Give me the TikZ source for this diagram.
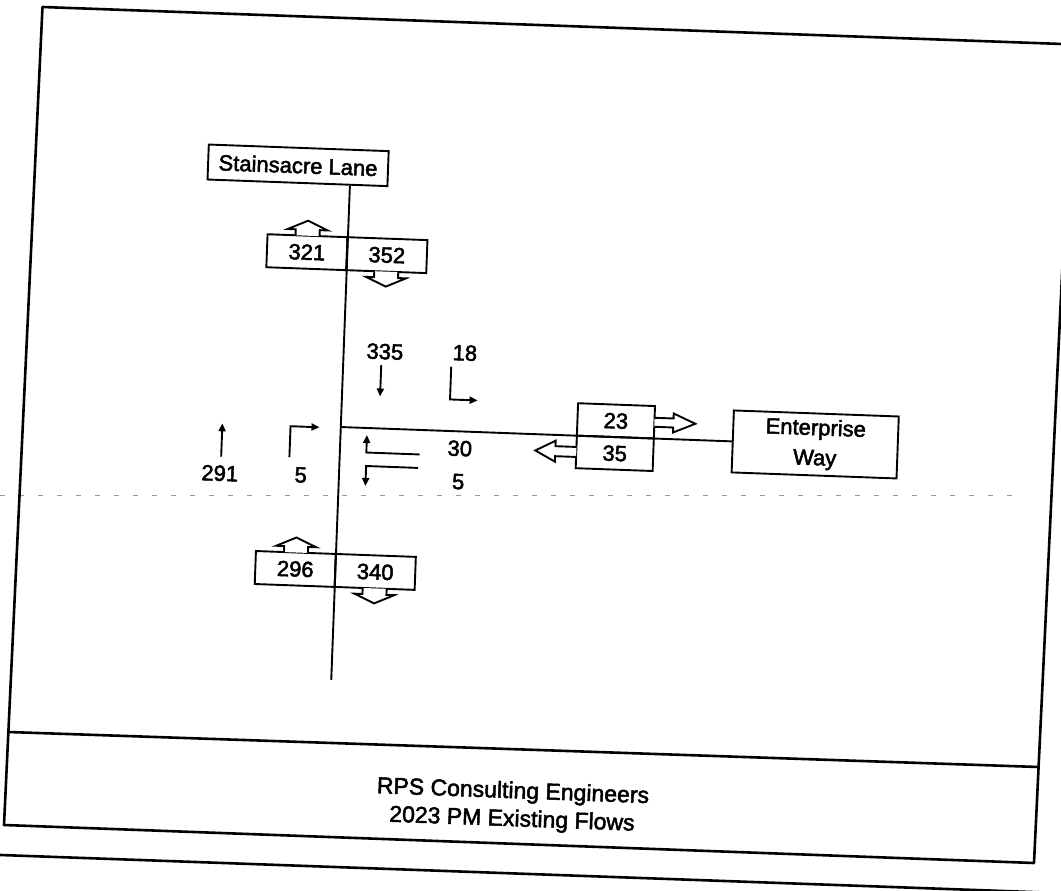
\documentclass[tikz,border=0pt]{standalone}
\usepackage{fontspec}
\setmainfont[FakeBold=2.2]{Liberation Sans}
\usetikzlibrary{arrows.meta,calc}
\begin{document}
\begin{tikzpicture}[x=1pt,y=-1pt,
  frameline/.style={line width=2.6pt, line join=round},
  scanline/.style={draw=black!40, line width=1.5pt, dash pattern=on 5pt off 14pt},
  road/.style={line width=1.9pt},
  box/.style={draw, line width=1.9pt, fill=white, inner sep=0pt, font=\fontsize{22}{30}\selectfont},
  num/.style={inner sep=0pt, font=\fontsize{22}{26}\selectfont},
  flow/.style={line width=1.9pt, -{Triangle[length=8pt,width=7pt]}},
  blockarrow/.style={draw, line width=1.9pt, fill=white, line join=miter},
  foot/.style={inner sep=0pt, align=center, font=\fontsize{23}{28}\selectfont}
]
\useasboundingbox (0,0) rectangle (1061,891);
\clip (0,0) rectangle (1061,891);
\fill[white] (0,0) rectangle (1061,891);

% scan artefact
\draw[scanline] (0,495.5) -- (1015,495.5);

% outer frame
\draw[frameline] (42.5,7) -- (1073,44.4) -- (1034,863) -- (4,825) -- cycle;
\draw[frameline] (8.4,732) -- (1038.6,767);
\draw[frameline] (-5,854.8) -- (1045,892.5);

\begin{scope}[rotate around={-2.1:(530,445)}, transform shape]
  % road name boxes
  \node[box, minimum width=180pt, minimum height=35pt] (sl) at (288,174) {Stainsacre Lane};
  \node[box, minimum width=165pt, minimum height=62pt, align=center] (ew) at (815,434) {Enterprise\\Way};

  % flow boxes
  \node[box, minimum width=80pt, minimum height=33pt] (a321) at (300,260.5) {321};
  \node[box, minimum width=80pt, minimum height=33pt] (a352) at (380,260.5) {352};
  \node[box, minimum width=80pt, minimum height=33pt] (a296) at (300,577.5) {296};
  \node[box, minimum width=80pt, minimum height=33pt] (a340) at (380,577.5) {340};
  \node[box, minimum width=77pt, minimum height=32.5pt] (e23) at (615,417.75) {23};
  \node[box, minimum width=77pt, minimum height=32.5pt] (e35) at (615,450.25) {35};

  % roads
  \coordinate (rtop) at ($(sl.south west)!0.7889!(sl.south east)$);
  \coordinate (rbot) at (340,687);
  \coordinate (junc) at (340,434);
  \draw[road] (rtop) -- (rbot);
  \draw[road] (junc) -- (ew.west);

  % block arrows
  \draw[blockarrow] (288,244) -- (288,238) -- (280,238) -- (300,229) -- (320,238) -- (312,238) -- (312,244);
  \draw[blockarrow] (368,277) -- (368,283) -- (360,283) -- (380,292) -- (400,283) -- (392,283) -- (392,277);
  \draw[blockarrow] (288,561) -- (288,555) -- (280,555) -- (300,546) -- (320,555) -- (312,555) -- (312,561);
  \draw[blockarrow] (368,594) -- (368,600) -- (360,600) -- (380,609) -- (400,600) -- (392,600) -- (392,594);
  \draw[blockarrow] (653.5,413.25) -- (672.5,413.25) -- (672.5,408.25) -- (694.5,417.75) -- (672.5,427.25) -- (672.5,422.25) -- (653.5,422.25);
  \draw[blockarrow] (576.5,445.25) -- (555.5,445.25) -- (555.5,439.75) -- (535.5,450.25) -- (555.5,460.75) -- (555.5,455.25) -- (576.5,455.25);

  % turning flows
  \node[num] (l335) at (381.6,357) {335};
  \draw[flow] (378.4,370.5) -- (378.4,402);
  \node[num] (l18) at (461.6,355.4) {18};
  \draw[flow] (448.4,369.5) -- (448.4,402.4) -- (476,402.4);
  \node[num] (l291) at (221,484.6) {291};
  \draw[flow] (221.8,468) -- (221.8,434.6);
  \node[num] (l5a) at (302,483.4) {5};
  \draw[flow] (290,466) -- (290,435) -- (319,435);
  \node[num] (l30) at (460,451) {30};
  \draw[flow] (420,458.5) -- (366.7,458.5) -- (366.7,441);
  \node[num] (l5b) at (459.6,484.3) {5};
  \draw[flow] (419,472) -- (367,472) -- (367,492);

  % footer
  \node[foot] (title) at (525.7,806.6) {RPS Consulting Engineers\\2023 PM Existing Flows};
\end{scope}
\end{tikzpicture}
\end{document}
